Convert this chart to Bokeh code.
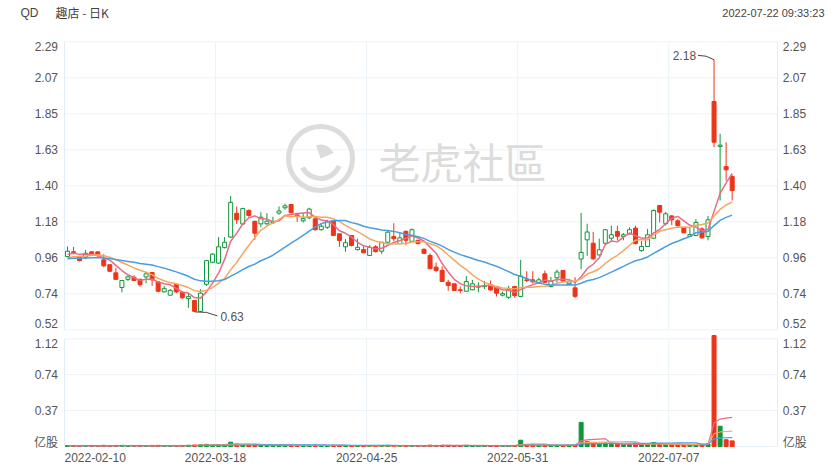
import numpy as np
from bokeh.plotting import figure
from bokeh.models import Grid, ColumnDataSource, Range1d
from bokeh.core.properties import value
from bokeh.embed import file_html
from bokeh.resources import INLINE

# ---------------- data ----------------
symbol = "QD"
title_text = "趣店 - 日K"
timestamp = "2022-07-22 09:33:23"
watermark = "老虎社區"

date_labels = ["2022-02-10", "2022-03-18", "2022-04-25", "2022-05-31", "2022-07-07"]
date_label_index = [0, 25, 50, 75, 100]

opens = [0.970, 1.000, 0.970, 0.966, 0.999, 0.999, 0.950, 0.920, 0.870, 0.780,
         0.830, 0.843, 0.830, 0.845, 0.872, 0.815, 0.753, 0.733, 0.800, 0.750,
         0.712, 0.700, 0.633, 0.800, 0.935, 0.930, 1.025, 1.090, 1.236, 1.170,
         1.253, 1.187, 1.171, 1.172, 1.178, 1.237, 1.270, 1.290, 1.226, 1.190,
         1.208, 1.202, 1.135, 1.150, 1.190, 1.110, 1.030, 1.100, 1.013, 1.013,
         0.977, 1.030, 1.003, 1.058, 1.093, 1.050, 1.125, 1.064, 1.070, 1.015,
         0.977, 0.905, 0.885, 0.812, 0.803, 0.766, 0.757, 0.766, 0.782, 0.785,
         0.798, 0.786, 0.733, 0.720, 0.786, 0.725, 0.827, 0.827, 0.806, 0.864,
         0.786, 0.840, 0.885, 0.803, 0.778, 0.955, 1.073, 1.052, 0.980, 1.052,
         1.083, 1.124, 1.094, 1.110, 1.145, 1.007, 1.032, 1.083, 1.284, 1.172,
         1.220, 1.190, 1.145, 1.094, 1.100, 1.140, 1.093, 1.923, 1.647, 1.523,
         1.462]
highs = [1.032, 1.030, 0.975, 1.010, 1.000, 1.000, 0.985, 0.920, 0.900, 0.823,
         0.855, 0.855, 0.835, 0.872, 0.875, 0.820, 0.790, 0.770, 0.805, 0.755,
         0.740, 0.700, 0.770, 0.950, 0.990, 1.090, 1.090, 1.343, 1.278, 1.270,
         1.260, 1.190, 1.243, 1.237, 1.215, 1.278, 1.295, 1.290, 1.237, 1.237,
         1.270, 1.205, 1.170, 1.196, 1.196, 1.110, 1.077, 1.100, 1.080, 1.040,
         1.040, 1.040, 1.060, 1.130, 1.175, 1.114, 1.130, 1.143, 1.070, 1.020,
         0.990, 0.933, 0.910, 0.827, 0.803, 0.786, 0.850, 0.827, 0.812, 0.820,
         0.823, 0.790, 0.755, 0.790, 0.790, 0.950, 0.880, 0.880, 0.840, 0.884,
         0.845, 0.890, 0.885, 0.832, 0.843, 1.238, 1.172, 1.122, 1.080, 1.140,
         1.160, 1.160, 1.115, 1.150, 1.160, 1.065, 1.140, 1.260, 1.284, 1.245,
         1.225, 1.200, 1.150, 1.145, 1.200, 1.150, 1.220, 2.180, 1.725, 1.673,
         1.470]
lows = [0.966, 0.985, 0.940, 0.955, 0.980, 0.970, 0.905, 0.874, 0.830, 0.750,
        0.820, 0.820, 0.785, 0.806, 0.790, 0.750, 0.750, 0.730, 0.745, 0.710,
        0.655, 0.630, 0.630, 0.790, 0.930, 0.925, 1.020, 1.085, 1.170, 1.165,
        1.215, 1.073, 1.150, 1.163, 1.170, 1.227, 1.258, 1.235, 1.184, 1.180,
        1.200, 1.130, 1.130, 1.140, 1.098, 1.030, 1.000, 1.032, 1.007, 0.990,
        0.975, 0.995, 0.985, 1.055, 1.065, 1.045, 1.040, 1.060, 1.045, 0.985,
        0.895, 0.875, 0.817, 0.760, 0.760, 0.745, 0.757, 0.763, 0.750, 0.770,
        0.760, 0.725, 0.725, 0.710, 0.717, 0.720, 0.813, 0.805, 0.805, 0.810,
        0.780, 0.810, 0.815, 0.800, 0.716, 0.893, 0.975, 0.950, 0.975, 1.050,
        1.060, 1.070, 1.070, 1.105, 1.045, 1.000, 1.030, 1.080, 1.180, 1.160,
        1.163, 1.150, 1.113, 1.090, 1.095, 1.080, 1.070, 1.642, 1.315, 1.437,
        1.315]
closes = [1.003, 0.995, 0.945, 0.990, 0.983, 0.975, 0.913, 0.880, 0.830, 0.823,
          0.845, 0.823, 0.797, 0.864, 0.827, 0.757, 0.773, 0.762, 0.753, 0.717,
          0.724, 0.634, 0.745, 0.945, 0.985, 1.030, 1.058, 1.303, 1.196, 1.265,
          1.223, 1.114, 1.212, 1.187, 1.184, 1.250, 1.282, 1.240, 1.216, 1.203,
          1.262, 1.135, 1.157, 1.184, 1.100, 1.069, 1.055, 1.038, 1.027, 0.993,
          1.027, 1.000, 1.058, 1.120, 1.080, 1.085, 1.070, 1.135, 1.050, 0.990,
          0.895, 0.885, 0.817, 0.792, 0.762, 0.762, 0.817, 0.803, 0.788, 0.792,
          0.765, 0.745, 0.742, 0.770, 0.730, 0.850, 0.823, 0.815, 0.827, 0.812,
          0.818, 0.875, 0.820, 0.815, 0.726, 0.996, 1.121, 0.956, 1.012, 1.135,
          1.104, 1.095, 1.104, 1.135, 1.050, 1.032, 1.104, 1.253, 1.243, 1.233,
          1.196, 1.160, 1.116, 1.105, 1.180, 1.085, 1.196, 1.673, 1.655, 1.503,
          1.376]
# volume in 亿股
volumes = [0.010, 0.008, 0.009, 0.007, 0.006, 0.008, 0.012, 0.010, 0.011, 0.012,
           0.008, 0.007, 0.009, 0.010, 0.011, 0.012, 0.009, 0.008, 0.010, 0.011,
           0.013, 0.015, 0.018,
           0.022, 0.016, 0.020, 0.018, 0.045, 0.026, 0.020, 0.015,
           0.018, 0.014, 0.012, 0.010, 0.013, 0.012, 0.014, 0.011, 0.009, 0.012,
           0.013, 0.010, 0.009, 0.012,
           0.011, 0.009, 0.010, 0.008, 0.009, 0.010, 0.008, 0.011, 0.012, 0.010,
           0.009, 0.008, 0.010, 0.007, 0.009,
           0.014, 0.011, 0.013, 0.012, 0.010, 0.009, 0.012, 0.010, 0.008, 0.009,
           0.010, 0.011, 0.008, 0.009, 0.010,
           0.065, 0.020, 0.016, 0.012, 0.014, 0.011, 0.013, 0.012, 0.010, 0.018,
           0.250, 0.050, 0.040, 0.028, 0.035, 0.022, 0.025, 0.018, 0.020, 0.030,
           0.022, 0.028, 0.040, 0.030, 0.020, 0.018, 0.015, 0.014, 0.016, 0.020,
           0.018, 0.025,
           1.150, 0.210, 0.070, 0.058]
# estimated sessions before the first visible one (moving-average warm-up)
prior_closes = [0.93, 0.95, 0.96, 0.94, 0.97, 0.95, 0.94, 0.96, 0.95, 0.95,
                0.93, 0.94, 0.95, 0.93, 0.955, 0.96, 0.98, 0.99, 0.985]
prior_volumes = [0.009, 0.011, 0.010, 0.012, 0.008, 0.010, 0.009, 0.011, 0.010, 0.012,
                 0.009, 0.010, 0.011, 0.008, 0.010, 0.009, 0.011, 0.010, 0.012]
ma_periods = [5, 10, 20]

price_ticks = [0.52, 0.74125, 0.9625, 1.18375, 1.405, 1.62625, 1.8475, 2.06875, 2.29]
price_tick_labels = ["0.52", "0.74", "0.96", "1.18", "1.40", "1.63", "1.85", "2.07", "2.29"]
vol_ticks = [0.0, 0.372, 0.744, 1.116]
vol_tick_labels = ["亿股", "0.37", "0.74", "1.12"]

# ---------------- style / layout ----------------
RED = "#EE3418"
GREEN = "#10963A"
MA_COLORS = ["#E96C84", "#F7A660", "#4A9DE0"]
GRID = "#EAF3F9"
FRAME = "#E2EEF6"
TXT = "#555555"
HDR = "#444444"
WM = "#DCDCDC"
NUM_FONT = "Liberation Sans"
CJK_FONT = "Noto Sans CJK SC"

W, H = 839, 469
FL, FR = 64, 777               # plot area left / right (px)
TOP1, BOT1 = 41.3, 329.3       # price panel top / bottom (px)
TOP2, BOT2 = 338.3, 446.0      # volume panel top / bottom (px)
N_SLOTS = 118
PX = (FR - FL) / N_SLOTS
P_LO, P_HI = price_ticks[0], price_ticks[-1]
V_LO, V_HI = vol_ticks[0], vol_ticks[-1]
PY = (BOT1 - TOP1) / (P_HI - P_LO)
PV = (BOT2 - TOP2) / (V_HI - V_LO)
XL, XR = -0.5, N_SLOTS - 0.5


def px2x(px):
    return XL + (px - FL) / PX


def py2p(py):
    return P_HI - (py - TOP1) / PY


def sma(prior, vals, k):
    arr = list(prior) + list(vals)
    off = len(prior)
    return [float(np.mean(arr[off + i - k + 1: off + i + 1])) for i in range(len(vals))]


n = len(closes)
idx = list(range(n))
up = [c >= o for o, c in zip(opens, closes)]
colors = [GREEN if u else RED for u in up]
fills = ["white" if u else RED for u in up]
src = ColumnDataSource(dict(
    x=idx, high=highs, low=lows,
    top=[max(o, c) for o, c in zip(opens, closes)],
    bottom=[min(o, c) for o, c in zip(opens, closes)],
    color=colors, fill=fills, vol=volumes))

p = figure(width=W, height=H,
           x_range=Range1d(px2x(0), px2x(W)),
           y_range=Range1d(py2p(H), py2p(0)),
           output_backend="svg", toolbar_location=None,
           x_axis_location=None, y_axis_location=None,
           min_border_left=0, min_border_right=0, min_border_top=0, min_border_bottom=0)
p.center = [c for c in p.center if not isinstance(c, Grid)]
p.outline_line_color = None
p.background_fill_color = "white"
p.border_fill_color = "white"
p.extra_y_ranges = {"vol": Range1d(V_LO - (H - BOT2) / PV, V_LO + BOT2 / PV)}

vgrid = [d - 0.5 for d in date_label_index[1:]]

# ---- grids and panel frames ----
for ticks, lo, hi, rng in ((price_ticks, P_LO, P_HI, "default"), (vol_ticks, V_LO, V_HI, "vol")):
    p.segment(x0=[XL] * len(ticks), x1=[XR] * len(ticks), y0=ticks, y1=ticks,
              line_color=GRID, line_width=1, y_range_name=rng)
    p.segment(x0=vgrid, x1=vgrid, y0=[lo] * len(vgrid), y1=[hi] * len(vgrid),
              line_color=GRID, line_width=1, y_range_name=rng)
    p.segment(x0=[XL, XR], x1=[XL, XR], y0=[lo, lo], y1=[hi, hi],
              line_color=FRAME, line_width=1, y_range_name=rng)

# ---- watermark ----
wm_cx, wm_cy = px2x(320), py2p(158)
p.scatter(x=[wm_cx], y=[wm_cy], size=64, marker="circle", fill_color=None,
          line_color=WM, line_width=5)
p.arc(x=[wm_cx], y=[wm_cy], radius=20, radius_units="screen",
      start_angle=3.6, end_angle=5.9, line_color=WM, line_width=5)
p.wedge(x=[wm_cx], y=[wm_cy], radius=14, radius_units="screen",
        start_angle=0.4, end_angle=1.9, fill_color=WM, line_color=None)
p.text(x=[px2x(378)], y=[py2p(160)], text=[watermark], text_font=value("Noto Sans CJK TC"),
       text_font_size=value("42px"), text_color=WM, text_baseline="middle", text_align="left")

# ---- candles ----
p.segment(x0="x", y0="low", x1="x", y1="high", color="color", line_width=1, source=src)
p.vbar(x="x", width=0.66, top="top", bottom="bottom", fill_color="fill",
       line_color="color", line_width=1, source=src)
for k, col in zip(ma_periods, MA_COLORS):
    p.line(idx, sma(prior_closes, closes, k), line_color=col, line_width=1.5)

# ---- max / min markers ----
hi_i = int(np.argmax(highs))
lo_i = int(np.argmin(lows))
hx, hy = hi_i, highs[hi_i]
p.line([hx, hx - 8 / PX, hx - 16 / PX], [hy, hy + 3.5 / PY, hy + 4.3 / PY],
       line_color="#444444", line_width=1)
p.text(x=[hx - 18 / PX], y=[hy + 4.3 / PY], text=[f"{hy:.2f}"], text_align="right",
       text_baseline="middle", text_font=value(NUM_FONT), text_font_size=value("12px"),
       text_color=TXT)
lx, ly = lo_i, lows[lo_i]
p.line([lx, lx + 12 / PX, lx + 23 / PX], [ly, ly - 0.5 / PY, ly - 4 / PY],
       line_color="#444444", line_width=1)
p.text(x=[lx + 26 / PX], y=[ly - 4.6 / PY], text=[f"{ly:.2f}"], text_align="left",
       text_baseline="middle", text_font=value(NUM_FONT), text_font_size=value("12px"),
       text_color=TXT)

# ---- volume ----
p.vbar(x="x", width=0.66, top="vol", bottom=0, fill_color="color",
       line_color="color", line_width=1, source=src, y_range_name="vol")
for k, col in zip(ma_periods, MA_COLORS):
    p.line(idx, sma(prior_volumes, volumes, k), line_color=col, line_width=1.2,
           y_range_name="vol")


# ---- tick labels (left and right of both panels) ----
def tick_labels(ticks, labels, scale, shift_first, shift_last, rng, first_font):
    ys = list(ticks)
    ys[0] = ys[0] + shift_first / scale      # nudge end labels inside the panel
    ys[-1] = ys[-1] - shift_last / scale
    for j, (y, lab) in enumerate(zip(ys, labels)):
        font = first_font if j == 0 else NUM_FONT
        for x, align in ((XL - 6.5 / PX, "right"), (XR + 5.3 / PX, "left")):
            p.text(x=[x], y=[y], text=[lab], text_align=align, text_baseline="middle",
                   text_font=value(font), text_font_size=value("12px"), text_color=TXT,
                   y_range_name=rng)


tick_labels(price_ticks, price_tick_labels, PY, 6, 4.7, "default", NUM_FONT)
tick_labels(vol_ticks, vol_tick_labels, PV, 5.3, 4.4, "vol", CJK_FONT)

# ---- date labels ----
for j, (di, lab) in enumerate(zip(date_label_index, date_labels)):
    p.text(x=[di - 0.5], y=[V_LO - 10.7 / PV], text=[lab],
           text_align="left" if j == 0 else "center", text_baseline="middle",
           text_font=value(NUM_FONT), text_font_size=value("12px"), text_color=TXT,
           y_range_name="vol")

# ---- header ----
hdr_y = py2p(12)
p.text(x=[px2x(20)], y=[hdr_y], text=[symbol], text_baseline="middle",
       text_font=value(NUM_FONT), text_font_size=value("12px"), text_color=HDR)
p.text(x=[px2x(55)], y=[hdr_y], text=[title_text], text_baseline="middle",
       text_font=value(CJK_FONT), text_font_size=value("12px"), text_color=HDR)
p.text(x=[px2x(824)], y=[hdr_y], text=[timestamp], text_baseline="middle", text_align="right",
       text_font=value(NUM_FONT), text_font_size=value("11px"), text_color=HDR)

open("out.html", "w").write(file_html(p, INLINE))
